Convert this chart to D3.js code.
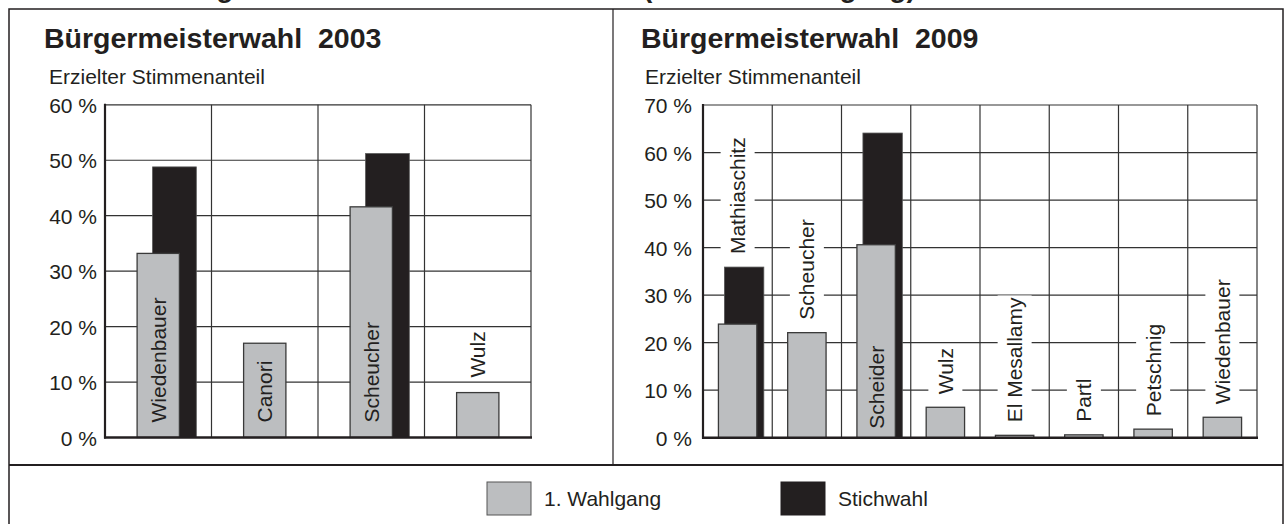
<!DOCTYPE html>
<html>
<head>
<meta charset="utf-8">
<script src="https://cdn.jsdelivr.net/npm/d3@7"></script>
<style>
  html, body { margin: 0; padding: 0; background: #fff; }
  svg { display: block; }
  text { font-family: "Liberation Sans", Arial, Helvetica, sans-serif; fill: #231f20; white-space: pre; }
</style>
</head>
<body>
<svg id="chart" width="1284" height="524"></svg>
<script>
// ---- data ----
const pageTitleA = "Bürgermeisterwahlen 2003 und 2009";
const pageTitleB = "(1. und 2. Wahlgang)";
const subtitle = "Erzielter Stimmenanteil";
const seriesNames = ["1. Wahlgang", "Stichwahl"];

const title2003 = "Bürgermeisterwahl  2003";
const cats2003 = ["Wiedenbauer", "Canori", "Scheucher", "Wulz"];
const first2003 = [33.2, 17.0, 41.6, 8.1];
const run2003 = [48.8, null, 51.2, null];
const ticks2003 = [0, 10, 20, 30, 40, 50, 60];

const title2009 = "Bürgermeisterwahl  2009";
const cats2009 = ["Mathiaschitz", "Scheucher", "Scheider", "Wulz", "El Mesallamy", "Partl", "Petschnig", "Wiedenbauer"];
const first2009 = [23.9, 22.1, 40.6, 6.4, 0.5, 0.6, 1.8, 4.3];
const run2009 = [35.9, null, 64.1, null, null, null, null, null];
const ticks2009 = [0, 10, 20, 30, 40, 50, 60, 70];

// ---- style ----
const INK = "#231f20";
const GRAY = "#bcbec0";
const svg = d3.select("#chart");

function stext(parent, x, y, s, size, weight, anchor) {
  return parent.append("text").attr("x", x).attr("y", y).text(s).attr("font-size", size)
    .attr("font-weight", weight || "normal").attr("text-anchor", anchor || "start")
    .attr("xml:space", "preserve");
}

// page title (cut off at top, as in the source)
stext(svg, 168, -3, pageTitleA, 28, "bold");
stext(svg, 643, -3, pageTitleB, 28, "bold");

// frame
svg.append("rect").attr("x", 9).attr("y", 9).attr("width", 1274).attr("height", 540)
  .attr("fill", "none").attr("stroke", INK).attr("stroke-width", 1.5);
svg.append("line").attr("x1", 613).attr("x2", 613).attr("y1", 9).attr("y2", 465)
  .attr("stroke", INK).attr("stroke-width", 1.2);
svg.append("line").attr("x1", 9).attr("x2", 1283).attr("y1", 465).attr("y2", 465)
  .attr("stroke", INK).attr("stroke-width", 2);

function panel(cfg) {
  const g = svg.append("g");
  stext(g, cfg.titleX, 48, cfg.title, 28.5, "bold");
  stext(g, cfg.subX, 84, subtitle, 21);

  const y = d3.scaleLinear().domain([0, d3.max(cfg.ticks)]).range([cfg.y0, cfg.y1]);
  const x = d3.scaleBand().domain(cfg.cats).range([cfg.x0, cfg.x1]).padding(0);

  // grid
  const grid = g.append("g");
  grid.selectAll("line.h").data(cfg.ticks.slice(1)).join("line")
    .attr("x1", cfg.x0).attr("x2", cfg.x1)
    .attr("y1", d => y(d)).attr("y2", d => y(d))
    .attr("stroke", "#333").attr("stroke-width", 1.2);
  grid.selectAll("line.v").data(cfg.cats.slice(1).concat(["__end"])).join("line")
    .attr("x1", d => d === "__end" ? cfg.x1 : x(d)).attr("x2", d => d === "__end" ? cfg.x1 : x(d))
    .attr("y1", y(d3.max(cfg.ticks))).attr("y2", cfg.y0)
    .attr("stroke", "#333").attr("stroke-width", 1.2);

  // tick labels
  const ax = g.append("g").attr("transform", `translate(${cfg.x0},0)`)
    .call(d3.axisLeft(y).tickValues(cfg.ticks).tickSize(0).tickPadding(cfg.tickGap).tickFormat(d => d + " %"));
  ax.select(".domain").remove();
  ax.selectAll("text")
    .attr("dy", "0.36em")
    .attr("font-size", 21).attr("font-family", null).attr("fill", INK).attr("text-anchor", "end");

  const bw = x.bandwidth();
  const gx = d => x(d) + bw / 2 - cfg.gw / 2;
  const data = cfg.cats.map((c, i) => ({ c, v1: cfg.first[i], v2: cfg.run[i] }));

  const bgLayer = g.append("g");
  g.selectAll("rect.run").data(data.filter(d => d.v2 != null)).join("rect")
    .attr("x", d => gx(d.c) + cfg.bOff).attr("width", cfg.bw)
    .attr("y", d => y(d.v2)).attr("height", d => cfg.y0 - y(d.v2))
    .attr("fill", INK).attr("stroke", "#555").attr("stroke-width", 0.8);
  g.selectAll("rect.first").data(data).join("rect")
    .attr("x", d => gx(d.c)).attr("width", cfg.gw)
    .attr("y", d => y(d.v1)).attr("height", d => cfg.y0 - y(d.v1))
    .attr("fill", GRAY).attr("stroke", "#3a3a3a").attr("stroke-width", 1.3);

  // axis lines
  g.append("line").attr("x1", cfg.x0).attr("x2", cfg.x0).attr("y1", y(d3.max(cfg.ticks)) - 1).attr("y2", cfg.y0 + 1)
    .attr("stroke", INK).attr("stroke-width", 2.2);
  g.append("line").attr("x1", cfg.x0 - 1).attr("x2", cfg.x1 + 1).attr("y1", cfg.y0).attr("y2", cfg.y0)
    .attr("stroke", INK).attr("stroke-width", 2.4);

  // rotated name labels
  data.forEach(d => {
    const cx = x(d.c) + bw / 2;
    const lg = g.append("g");
    const t = lg.append("text").text(d.c).attr("font-size", 21).attr("dy", "0.36em");
    const len = t.node().getComputedTextLength();
    const grayH = cfg.y0 - y(d.v1);
    let start;
    if (grayH - len >= 30) {
      start = cfg.y0 - cfg.inOff;
    } else {
      const top = y(Math.max(d.v1, d.v2 || 0));
      start = top - cfg.outOff;
      bgLayer.append("rect").attr("x", cx - 17).attr("width", 34)
        .attr("y", start - len - 2).attr("height", len + 5).attr("fill", "#fff");
    }
    lg.attr("transform", `translate(${cx},${start}) rotate(-90)`);
  });
}

panel({
  title: title2003, titleX: 44, subX: 49,
  cats: cats2003, first: first2003, run: run2003, ticks: ticks2003,
  x0: 105, x1: 531, y0: 437.5, y1: 104.8, tickGap: 8,
  gw: 42.3, bOff: 15.5, bw: 43.7, inOff: 15, outOff: 15
});
panel({
  title: title2009, titleX: 641, subX: 645,
  cats: cats2009, first: first2009, run: run2009, ticks: ticks2009,
  x0: 703, x1: 1257, y0: 437.7, y1: 105, tickGap: 11,
  gw: 38.4, bOff: 6, bw: 39.4, inOff: 9, outOff: 13
});

// legend
const leg = svg.append("g");
const legX = [487, 781];
seriesNames.forEach((s, i) => {
  leg.append("rect").attr("x", legX[i]).attr("y", 482).attr("width", 44).attr("height", 33)
    .attr("fill", i === 0 ? GRAY : INK).attr("stroke", i === 0 ? "#555" : INK).attr("stroke-width", 1);
  stext(leg, legX[i] + 57, 506, s, 21);
});
</script>
</body>
</html>
